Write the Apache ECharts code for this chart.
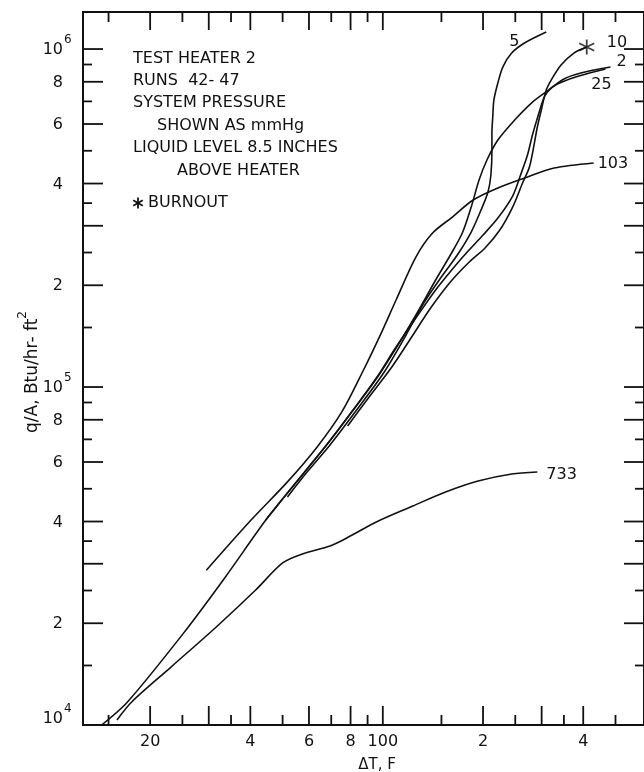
<!DOCTYPE html>
<html>
<head>
<meta charset="utf-8">
<script src="https://cdn.jsdelivr.net/npm/echarts@6/dist/echarts.min.js"></script>
<style>
  html, body { margin: 0; padding: 0; background: #fff; }
  #chart { width: 644px; height: 772px; }
</style>
</head>
<body>
<div id="chart"></div>
<script>
// Boiling curves for test heater 2, runs 42-47:
// heat flux q/A (Btu/hr-ft^2) against wall superheat dT (F), one curve per system pressure (mm Hg).

// [dT (F), q/A (Btu/hr-ft^2)]
const run2 = [[14.3,10000],[17.1,11700],[25.2,18700],[33.2,26900],[44.5,40400],[51.7,48600],[67.0,66400],[80.6,84300],[96.9,107800],[113.4,137700],[128.3,169000],[144.1,207300],[159.6,245800],[173.3,285500],[184.3,340800],[194.6,409700],[205.5,469500],[221.6,538000],[248.9,616500],[279.5,692200],[311.8,751100],[350.2,815100],[393.4,849100],[482.8,884500]];
const run5 = [[51.7,47300],[59.3,56100],[69.4,67400],[83.4,85500],[101.0,110800],[117.4,142500],[132.7,177200],[149.1,210100],[167.4,245800],[184.3,287500],[197.3,333900],[207.0,377500],[211.2,423900],[212.7,502600],[212.7,564300],[214.1,637900],[215.6,706500],[221.6,793300],[229.3,884500],[243.8,973100],[266.5,1042000],[309.7,1123000]];
const run10 = [[78.4,76700],[90.5,92800],[105.9,113800],[121.5,139600],[139.2,171300],[159.6,204500],[181.8,234300],[202.8,257800],[224.6,291400],[245.5,340800],[262.9,401400],[275.7,447600],[285.3,527100],[291.2,587800],[299.3,660000],[309.7,756300],[320.5,809600],[343.1,896700],[375.0,973100],[409.8,1013700]];
const run25 = [[44.5,40400],[51.7,48600],[67.0,66400],[80.6,84300],[95.6,106300],[109.6,131300],[125.7,160000],[144.1,193600],[162.9,224900],[179.3,250800],[200.0,281600],[221.6,316200],[245.5,367400],[259.3,423900],[272.0,485700],[281.5,556600],[293.2,637900],[305.5,721100],[320.5,766700],[345.5,798700],[388.0,832000],[466.6,872600]];
const run103 = [[29.5,28700],[40.2,40400],[51.7,52400],[63.5,66500],[75.3,84400],[87.5,112300],[98.9,144400],[109.6,180900],[125.7,242400],[141.1,285500],[161.8,318400],[186.8,357500],[221.6,388000],[266.5,415200],[327.1,444500],[429.9,460000]];
const run733 = [[15.9,10350],[17.6,11700],[23.1,14840],[31.6,19500],[41.5,25080],[50.0,30160],[57.3,32060],[69.4,33850],[77.9,35750],[95.6,39870],[123.1,44460],[154.3,48910],[193.3,52720],[243.9,55300],[291.2,56060]];

// pressure tags written at the curve ends
const runNames = ['2', '5', '10', '25', '103', '733'];

// axis graduations
const xMajorTicks = [20, 30, 40, 60, 80, 100, 200, 300, 400];
const xMinorTicks = [15, 25, 35, 50, 70, 90, 150, 250, 350, 500];
const xLabelValues = [20, 40, 60, 80, 100, 200, 400];
const xLabelText = ['20', '4', '6', '8', '100', '2', '4'];
const yMajorTicks = [2e4, 3e4, 4e4, 6e4, 8e4, 1e5, 2e5, 3e5, 4e5, 6e5, 8e5, 1e6];
const yMinorTicks = [1.5e4, 2.5e4, 3.5e4, 5e4, 7e4, 9e4, 1.5e5, 2.5e5, 3.5e5, 5e5, 7e5, 9e5];
const yLabelValues = [1e4, 2e4, 4e4, 6e4, 8e4, 1e5, 2e5, 4e5, 6e5, 8e5, 1e6];
const yLabelBase = ['10', '2', '4', '6', '8', '10', '2', '4', '6', '8', '10'];
const yLabelExp = ['4', '', '', '', '', '5', '', '', '', '', '6'];

const noteLines = ['TEST HEATER 2', 'RUNS  42- 47', 'SYSTEM PRESSURE', 'SHOWN AS mmHg', 'LIQUID LEVEL 8.5 INCHES', 'ABOVE HEATER', 'BURNOUT'];
const xTitle = 'ΔT, F';
const yTitle = 'q/A, Btu/hr- ft';

// ---- layout / style ----
const X_MIN = 12.57, X_MAX = 609, Y_MIN = 1e4, Y_MAX = 1.287e6;
const INK = '#111';
const FONT = '"DejaVu Sans", "Liberation Sans", sans-serif';

const runs = [run2, run5, run10, run25, run103, run733];
// where each tag sits relative to its curve end (pixels)
const tagPlace = {
  '2':   { dx: 6,   dy: -5, align: 'left' },
  '5':   { dx: -32, dy: 10, align: 'center' },
  '10':  { dx: 20,  dy: -4, align: 'left' },
  '25':  { dx: -4,  dy: 16, align: 'center' },
  '103': { dx: 4,   dy: 1,  align: 'left' },
  '733': { dx: 9,   dy: 3,  align: 'left' }
};

const chart = echarts.init(document.getElementById('chart'), null, { renderer: 'canvas' });

const curveSeries = runs.map((pts, i) => ({
  name: runNames[i],
  type: 'line',
  data: pts,
  smooth: 0.3,
  showSymbol: false,
  symbol: 'none',
  silent: true,
  clip: true,
  lineStyle: { color: INK, width: 1.6 },
  z: 3
}));

const tickLine = (x1, y1, x2, y2) => ({
  type: 'line', shape: { x1, y1, x2, y2 }, style: { stroke: INK, lineWidth: 1.8 }
});

const xTickSeries = {
  type: 'custom', silent: true, clip: false, z: 5,
  encode: { x: 0, y: 1 },
  data: xMajorTicks.map(v => [v, Y_MIN, 1]).concat(xMinorTicks.map(v => [v, Y_MIN, 0])),
  renderItem: (params, api) => {
    const v = api.value(0), major = api.value(2);
    const b = api.coord([v, Y_MIN]), t = api.coord([v, Y_MAX]);
    const lb = major ? 19 : 10, lt = major ? 18 : 10;
    return { type: 'group', children: [
      tickLine(b[0], b[1], b[0], b[1] - lb),
      tickLine(t[0], t[1], t[0], t[1] + lt)
    ] };
  }
};

const yTickSeries = {
  type: 'custom', silent: true, clip: false, z: 5,
  encode: { x: 0, y: 1 },
  data: yMajorTicks.map(v => [X_MIN, v, 1]).concat(yMinorTicks.map(v => [X_MIN, v, 0])),
  renderItem: (params, api) => {
    const v = api.value(1), major = api.value(2);
    const l = api.coord([X_MIN, v]), r = api.coord([X_MAX, v]);
    const len = major ? 20 : 9;
    return { type: 'group', children: [
      tickLine(l[0], l[1], l[0] + len, l[1]),
      tickLine(r[0], r[1], r[0] - len, r[1])
    ] };
  }
};

const xLabelSeries = {
  type: 'custom', silent: true, clip: false, z: 5,
  encode: { x: 0, y: 1 },
  data: xLabelValues.map(v => [v, Y_MIN]),
  renderItem: (params, api) => {
    const p = api.coord([api.value(0), Y_MIN]);
    return { type: 'text', x: p[0], y: p[1] + 17,
      style: { text: xLabelText[params.dataIndex], font: '16px ' + FONT, fill: INK, align: 'center', verticalAlign: 'middle' } };
  }
};

const yLabelSeries = {
  type: 'custom', silent: true, clip: false, z: 5,
  encode: { x: 0, y: 1 },
  data: yLabelValues.map(v => [X_MIN, v]),
  renderItem: (params, api) => {
    const v = api.value(1);
    const p = api.coord([X_MIN, v]);
    const i = params.dataIndex;
    const yy = p[1] + (v === Y_MIN ? -6 : 1);
    const kids = [{ type: 'text', x: p[0] - 20, y: yy,
      style: { text: yLabelBase[i], font: '16px ' + FONT, fill: INK, align: 'right', verticalAlign: 'middle' } }];
    if (yLabelExp[i]) {
      kids.push({ type: 'text', x: p[0] - 19, y: yy - 10,
        style: { text: yLabelExp[i], font: '12px ' + FONT, fill: INK, align: 'left', verticalAlign: 'middle' } });
    }
    return { type: 'group', children: kids };
  }
};

const tagSeries = {
  type: 'custom', silent: true, clip: false, z: 6,
  encode: { x: 0, y: 1 },
  data: runs.map(pts => pts[pts.length - 1]),
  renderItem: (params, api) => {
    const name = runNames[params.dataIndex];
    const pl = tagPlace[name];
    const p = api.coord([api.value(0), api.value(1)]);
    return { type: 'text', x: p[0] + pl.dx, y: p[1] + pl.dy,
      style: { text: name, font: '16px ' + FONT, fill: INK, align: pl.align, verticalAlign: 'middle' } };
  }
};

const ASTERISK = 'path://M10,0L10,20M1.34,5L18.66,15M1.34,15L18.66,5';

const burnoutSeries = {
  type: 'scatter', silent: true, z: 7,
  data: [run10[run10.length - 1]],
  symbol: ASTERISK,
  symbolSize: 15,
  itemStyle: { color: INK, borderColor: INK, borderWidth: 1.8 }
};

// explanatory note in the upper-left corner
const noteX = 133;
const noteRows = [
  { x: noteX, y: 59 }, { x: noteX, y: 81 }, { x: noteX, y: 103 }, { x: noteX + 24, y: 126 },
  { x: noteX, y: 148 }, { x: noteX + 44, y: 171 }, { x: noteX + 15, y: 203 }
];
const graphics = noteLines.map((t, i) => ({
  type: 'text', x: noteRows[i].x, y: noteRows[i].y,
  style: { text: t, font: '16px ' + FONT, fill: INK, align: 'left', verticalAlign: 'middle' }
}));
const starLen = 5.5;
graphics.push({
  type: 'group', x: noteX + 5, y: 203,
  children: [
    { type: 'line', shape: { x1: 0, y1: -starLen, x2: 0, y2: starLen }, style: { stroke: INK, lineWidth: 1.8 } },
    { type: 'line', shape: { x1: -starLen * 0.87, y1: -starLen * 0.5, x2: starLen * 0.87, y2: starLen * 0.5 }, style: { stroke: INK, lineWidth: 1.8 } },
    { type: 'line', shape: { x1: -starLen * 0.87, y1: starLen * 0.5, x2: starLen * 0.87, y2: -starLen * 0.5 }, style: { stroke: INK, lineWidth: 1.8 } }
  ]
});

// axis titles
graphics.push({
  type: 'text', x: 377, y: 765,
  style: { text: xTitle, font: '15px ' + FONT, fill: INK, align: 'center', verticalAlign: 'middle' }
});
graphics.push({
  type: 'text', x: 29, y: 372, rotation: Math.PI / 2,
  style: {
    text: '{m|' + yTitle + '}{s|2}', align: 'center', verticalAlign: 'middle',
    rich: {
      m: { font: '17px ' + FONT, fill: INK, lineHeight: 24, verticalAlign: 'bottom' },
      s: { font: '12px ' + FONT, fill: INK, lineHeight: 24, verticalAlign: 'top' }
    }
  }
});

chart.setOption({
  animation: false,
  backgroundColor: '#fff',
  grid: { left: 83, top: 12, right: -7, bottom: 47, show: true, borderColor: INK, borderWidth: 2, backgroundColor: 'transparent' },
  xAxis: {
    type: 'log', logBase: 10, min: X_MIN, max: X_MAX,
    axisLine: { show: false }, axisTick: { show: false }, axisLabel: { show: false }, splitLine: { show: false }
  },
  yAxis: {
    type: 'log', logBase: 10, min: Y_MIN, max: Y_MAX,
    axisLine: { show: false }, axisTick: { show: false }, axisLabel: { show: false }, splitLine: { show: false }
  },
  graphic: graphics,
  series: curveSeries.concat([xTickSeries, yTickSeries, xLabelSeries, yLabelSeries, tagSeries, burnoutSeries])
});
</script>
</body>
</html>
